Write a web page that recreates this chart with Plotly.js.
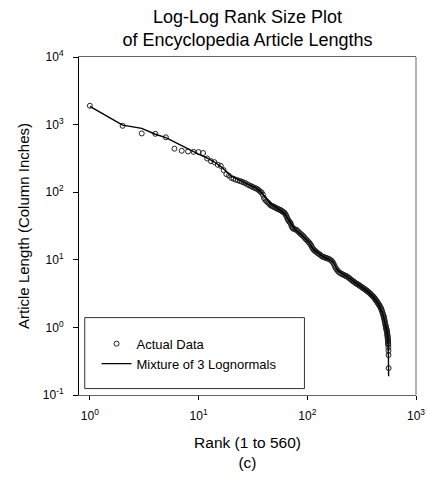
<!DOCTYPE html>
<html>
<head>
<meta charset="utf-8">
<script src="https://cdn.plot.ly/plotly-3.0.1.min.js"></script>
<style>
  html, body { margin: 0; padding: 0; background: #fff; }
  #chart { width: 427px; height: 483px; }
</style>
</head>
<body>
<div id="chart"></div>
<script>
// ---- Data ----
const dataRank = [
  1,2,3,4,5,6,7,8,9,10,
  11,12,13,14,15,16,17,18,19,20,
  21,22,23,24,25,26,27,28,29,30,
  31,32,33,34,35,36,37,38,39,40,
  41,42,43,44,45,46,47,48,49,50,
  51,52,53,54,55,56,57,58,59,60,
  61,62,63,64,65,66,67,68,69,70,
  71,72,73,
  74,76,78,80,82,84,86,88,90,92,
  94,96,98,100,102,104,106,108,110,112,
  114,116,118,120,
  123,126,129,132,135,138,141,144,147,150,
  154,158,162,166,170,174,178,182,186,190,
  195,200,205,210,215,220,225,230,235,240,
  245,250,255,260,265,270,275,280,285,290,
  295,300,305,310,315,320,325,330,335,340,
  345,350,355,360,365,370,375,380,385,390,
  395,400,405,410,415,420,425,430,435,440,
  445,450,455,460,465,470,475,480,485,490,
  495,500,
  503,506,509,512,515,518,521,524,527,530,
  532,534,536,538,540,542,544,546,
  547,548,549,550,551,552,553,554,555,556,557,558,559,560];
const dataLength = [
  1900,960,740,730,650,440,410,400,395,392,
  380,315,288,278,255,245,212,185,176,163,
  158,153,150,146,143,139,136,131,127,124,
  121,118,115,113,110,106,102,99,92,82,
  77,74,71,69,66,64,63,62,61,60,
  59,58,57,56,55.5,55,54,53,52,51,
  50,49,47,45,42.5,40,38.5,37,36,35,
  33,31,30,
  29,28.5,28,27.5,26.5,25.5,24.5,23.8,23,22.3,
  21.5,20.5,19.9,19.3,18.6,18,17.2,16.5,15.6,14.8,
  14.2,13.8,13.5,13.2,
  12.8,12.4,12.1,11.8,11.4,11.1,11.0,10.9,10.7,10.6,
  10.45,10.3,10.0,9.8,9.4,8.9,8.2,7.6,7.2,6.9,
  6.6,6.4,6.25,6.1,6.0,5.9,5.8,5.7,5.58,5.45,
  5.3,5.15,5.02,4.9,4.8,4.7,4.6,4.5,4.42,4.35,
  4.27,4.2,4.12,4.05,3.97,3.9,3.84,3.78,3.71,3.65,
  3.58,3.52,3.46,3.4,3.34,3.28,3.21,3.15,3.08,3.02,
  2.96,2.9,2.84,2.78,2.71,2.65,2.57,2.5,2.44,2.38,
  2.31,2.25,2.18,2.12,2.06,2.0,1.93,1.85,1.77,1.68,
  1.6,1.52,
  1.47,1.42,1.37,1.31,1.24,1.19,1.13,1.08,1.04,1.0,
  0.97,0.95,0.92,0.9,0.87,0.84,0.8,0.77,
  0.75,0.73,0.70,0.68,0.66,0.64,0.62,0.59,0.57,0.55,0.50,0.45,0.39,0.25];

const fitRank = [1,2,3,4,5,6.7,8,10,12,14,16,18,20,23,26,30,34,37,40,45,
  50,56,62,66,70,76,85,95,105,115,125,140,160,172,186,200,230,265,300,350,
  400,450,500,520,540,550,556,560];
const fitLength = [1860,980,880,720,640,505,430,365,320,280,240,200,172,155,142,127,114,103,88,70,
  62,55,48,41,35,29,25,21,17.5,14,12.6,11.1,10.1,9.3,7.3,6.5,5.7,4.85,4.2,3.52,
  2.9,2.25,1.52,1.15,0.87,0.68,0.52,0.19];

const xTickVals = [1, 10, 100, 1000];
const xTickText = ['10<sup>0</sup>', '10<sup>1</sup>', '10<sup>2</sup>', '10<sup>3</sup>'];
const yTickVals = [0.1, 1, 10, 100, 1000, 10000];
const yTickText = ['10<sup>-1</sup>', '10<sup>0</sup>', '10<sup>1</sup>', '10<sup>2</sup>', '10<sup>3</sup>', '10<sup>4</sup>'];

const FONT = 'Liberation Sans, Arial, Helvetica, sans-serif';

const traces = [
  {
    x: dataRank, y: dataLength,
    type: 'scatter', mode: 'markers', name: 'Actual Data',
    marker: { symbol: 'circle-open', size: 5, color: '#222', line: { width: 1, color: '#222' } }
  },
  {
    x: fitRank, y: fitLength,
    type: 'scatter', mode: 'lines', name: 'Mixture of 3 Lognormals',
    line: { color: '#000', width: 1.4 }
  }
];

const layout = {
  width: 427, height: 483,
  margin: { l: 79, r: 11, t: 57, b: 88 },
  paper_bgcolor: '#fff', plot_bgcolor: '#fff',
  font: { family: FONT, color: '#000', size: 12 },
  title: {
    text: 'Log-Log Rank Size Plot<br>of Encyclopedia Article Lengths',
    font: { family: FONT, size: 18, color: '#000' },
    x: 0.5, xref: 'paper', xanchor: 'center',
    y: 0.953, yref: 'container', yanchor: 'middle'
  },
  xaxis: {
    type: 'log', range: [-0.1, 3.0],
    tickvals: xTickVals, ticktext: xTickText,
    ticks: 'outside', ticklen: 4, tickcolor: '#000', tickwidth: 1,
    ticklabelstandoff: 6,
    tickfont: { family: FONT, size: 12, color: '#000' },
    showgrid: false, zeroline: false,
    showline: true, linecolor: '#666', linewidth: 1, mirror: true,
    title: {
      text: 'Rank (1 to 560)<br>(c)',
      font: { family: FONT, size: 15.5, color: '#000' },
      standoff: 14
    }
  },
  yaxis: {
    type: 'log', range: [-1, 4],
    tickvals: yTickVals, ticktext: yTickText,
    ticks: 'outside', ticklen: 5, tickcolor: '#000', tickwidth: 1,
    ticklabelstandoff: 7,
    tickfont: { family: FONT, size: 12, color: '#000' },
    showgrid: false, zeroline: false,
    showline: true, linecolor: '#000', linewidth: 1, mirror: false,
    title: {
      text: 'Article Length (Column Inches)',
      font: { family: FONT, size: 15, color: '#000' },
      standoff: 9
    }
  },
  shapes: [
    { type: 'line', xref: 'paper', yref: 'paper', x0: 1, x1: 1, y0: 0, y1: 1,
      line: { color: '#666', width: 1 } },
    { type: 'rect', xref: 'paper', yref: 'paper', x0: 0.017, x1: 0.669, y0: 0.019, y1: 0.229,
      line: { color: '#333', width: 1 }, fillcolor: 'rgba(0,0,0,0)' }
  ],
  showlegend: true,
  legend: {
    x: 0.052, y: 0.196, xanchor: 'left', yanchor: 'top',
    bgcolor: 'rgba(0,0,0,0)', borderwidth: 0,
    font: { family: FONT, size: 13, color: '#000' },
    tracegroupgap: 0
  }
};

Plotly.newPlot('chart', traces, layout, { displayModeBar: false, staticPlot: true });
</script>
</body>
</html>
